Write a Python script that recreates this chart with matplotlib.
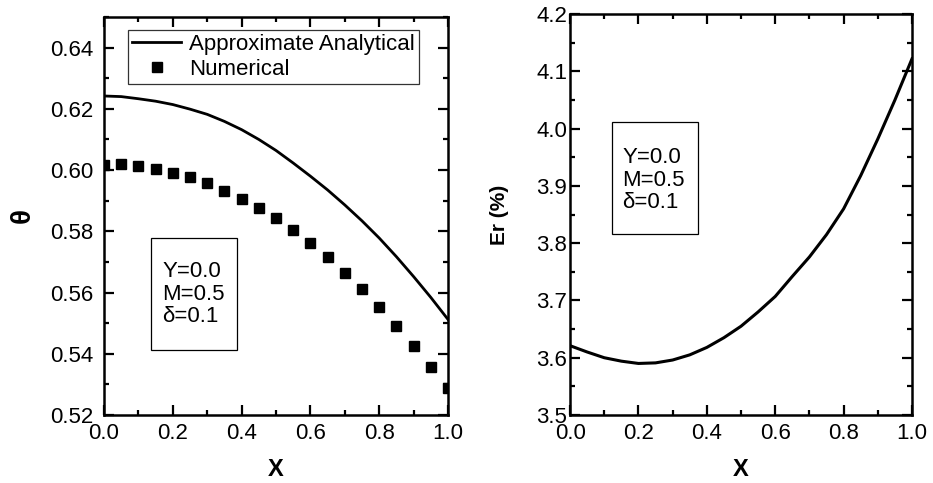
import matplotlib
matplotlib.use("Agg")
import matplotlib.pyplot as plt
from matplotlib.ticker import MultipleLocator, FormatStrFormatter
from matplotlib.patches import Rectangle

plt.rcParams['font.family'] = ['Liberation Sans', 'DejaVu Sans']

# Left panel data
x_ana = [0.00, 0.05, 0.10, 0.15, 0.20, 0.25, 0.30, 0.35, 0.40, 0.45, 0.50,
         0.55, 0.60, 0.65, 0.70, 0.75, 0.80, 0.85, 0.90, 0.95, 1.00]
theta_ana = [0.6242, 0.6240, 0.6233, 0.6225, 0.6214, 0.6199, 0.6182, 0.6159,
             0.6132, 0.6100, 0.6064, 0.6023, 0.5980, 0.5935, 0.5886, 0.5834,
             0.5778, 0.5717, 0.5652, 0.5584, 0.5512]
x_num = [0.00, 0.05, 0.10, 0.15, 0.20, 0.25, 0.30, 0.35, 0.40, 0.45, 0.50,
         0.55, 0.60, 0.65, 0.70, 0.75, 0.80, 0.85, 0.90, 0.95, 1.00]
theta_num = [0.6016, 0.6019, 0.6013, 0.6003, 0.5992, 0.5976, 0.5957, 0.5933,
             0.5907, 0.5876, 0.5842, 0.5804, 0.5761, 0.5715, 0.5665, 0.5611,
             0.5554, 0.5492, 0.5425, 0.5357, 0.5288]

# Right panel data
x_err = [0.00, 0.05, 0.10, 0.15, 0.20, 0.25, 0.30, 0.35, 0.40, 0.45, 0.50,
         0.55, 0.60, 0.65, 0.70, 0.75, 0.80, 0.85, 0.90, 0.95, 1.00]
err = [3.621, 3.610, 3.600, 3.594, 3.590, 3.591, 3.596, 3.605, 3.618, 3.635,
       3.655, 3.680, 3.707, 3.742, 3.776, 3.815, 3.860, 3.918, 3.982, 4.050,
       4.122]

params_text = "Y=0.0\nM=0.5\n\u03b4=0.1"

fig = plt.figure(figsize=(9.33, 4.83), dpi=100)
ax1 = fig.add_axes([0.1115, 0.1408, 0.3687, 0.824])
ax2 = fig.add_axes([0.611, 0.1408, 0.3665, 0.830])

FS = 16

def style(ax, ymaj, ymin, ypad):
    ax.set_xlim(0, 1.0)
    ax.xaxis.set_major_locator(MultipleLocator(0.2))
    ax.xaxis.set_minor_locator(MultipleLocator(0.1))
    ax.yaxis.set_major_locator(MultipleLocator(ymaj))
    ax.yaxis.set_minor_locator(MultipleLocator(ymin))
    ax.tick_params(which='both', direction='in', top=True, right=True,
                   width=1.6, labelsize=FS, colors='black')
    ax.tick_params(which='major', length=7)
    ax.tick_params(which='minor', length=3.5)
    ax.tick_params(axis='x', which='major', pad=6)
    ax.tick_params(axis='y', which='major', pad=ypad)
    for s in ax.spines.values():
        s.set_linewidth(1.8)
    ax.set_xlabel('X', fontsize=17, fontweight='bold', labelpad=10)
    ax.xaxis.set_major_formatter(FormatStrFormatter('%.1f'))

# Left
ax1.plot(x_ana, theta_ana, color='black', lw=2.0, label='Approximate Analytical')
ax1.plot(x_num, theta_num, linestyle='none', marker='s', ms=6.5, color='black',
         label='Numerical')
ax1.set_ylim(0.52, 0.65)
style(ax1, 0.02, 0.01, 8)
ax1.yaxis.set_major_formatter(FormatStrFormatter('%.2f'))
ax1.set_ylabel('\u03b8', fontsize=20, fontweight='bold', labelpad=10)
leg = ax1.legend(loc='upper left', bbox_to_anchor=(0.07, 0.967), fontsize=FS,
                 frameon=True, fancybox=False, edgecolor='black',
                 handlelength=2.2, handletextpad=0.36, borderpad=0.18,
                 labelspacing=0.18, borderaxespad=0)
leg.get_frame().set_linewidth(0.9)
ax1.add_patch(Rectangle((0.137, 0.163), 0.25, 0.282, transform=ax1.transAxes,
                        fill=False, edgecolor='black', lw=0.9))
ax1.text(0.169, 0.304, params_text, transform=ax1.transAxes, fontsize=FS,
         va='center', ha='left', linespacing=1.1)

# Right
ax2.plot(x_err, err, color='black', lw=2.2)
ax2.set_ylim(3.5, 4.2)
style(ax2, 0.1, 0.05, 2)
ax2.yaxis.set_major_formatter(FormatStrFormatter('%.1f'))
ax2.set_ylabel('Er (%)', fontsize=15, fontweight='bold', labelpad=20)
ax2.add_patch(Rectangle((0.123, 0.451), 0.251, 0.28, transform=ax2.transAxes,
                        fill=False, edgecolor='black', lw=0.9))
ax2.text(0.152, 0.586, params_text, transform=ax2.transAxes, fontsize=FS,
         va='center', ha='left', linespacing=1.1)

fig.savefig('out.png', dpi=100)
